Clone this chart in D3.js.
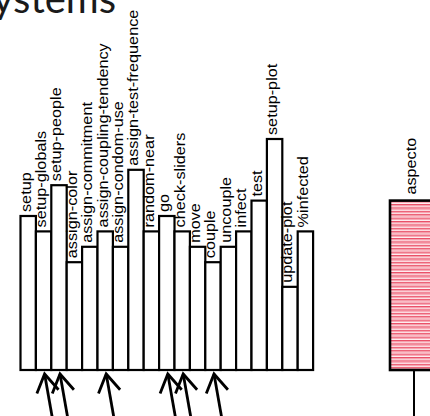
<!DOCTYPE html>
<html>
<head>
<meta charset="utf-8">
<script src="https://cdn.jsdelivr.net/npm/d3@7"></script>
<style>
  body { margin: 0; background: #fff; }
  svg { display: block; }
</style>
</head>
<body>
<svg id="chart" width="430" height="416"></svg>
<script>
// procedures in the model and their sizes
var procedures = ["setup", "setup-globals", "setup-people", "assign-color", "assign-commitment",
  "assign-coupling-tendency", "assign-condom-use", "assign-test-frequence", "random-near", "go",
  "check-sliders", "move", "couple", "uncouple", "infect", "test", "setup-plot", "update-plot", "%infected"];
var sizes = [10, 9, 12, 7, 8, 9, 8, 13, 9, 10, 9, 8, 7, 8, 9, 11, 15, 5.4, 9];

// the second, cut-off chart on the right
var aspects = ["aspecto"];
var aspectSizes = [11];

// procedures that the arrows point at
var marked = ["setup-globals", "setup-people", "assign-coupling-tendency", "go", "check-sliders", "couple"];

var title = "Systems";

var svg = d3.select("#chart");

var defs = svg.append("defs");
var pat = defs.append("pattern")
  .attr("id", "stripes")
  .attr("patternUnits", "userSpaceOnUse")
  .attr("width", 10)
  .attr("height", 3.4);
pat.append("rect").attr("width", 10).attr("height", 3.4).attr("fill", "#fff2f4");
pat.append("rect").attr("width", 10).attr("height", 1.3).attr("fill", "#e94a63");
pat.append("rect").attr("y", 1.3).attr("width", 10).attr("height", 1.1).attr("fill", "#f7a0ad");

var base = 370;
var y = d3.scaleLinear().domain([0, 15]).range([base, 139]);
var x = d3.scaleBand().domain(procedures).range([20.5, 313.1]).padding(0);
var x2 = d3.scaleBand().domain(aspects).range([390, 438]).padding(0);

// title, cut off at the top left of the slide
svg.append("text")
  .attr("x", 116)
  .attr("y", 13)
  .attr("text-anchor", "end")
  .attr("font-family", "Lato, 'Open Sans', sans-serif")
  .attr("font-size", 40)
  .attr("fill", "#1a1a1a")
  .text(title);

var fontSize = 14, stretch = 1.16;

// left chart bars
svg.append("g").selectAll("rect")
  .data(procedures)
  .enter().append("rect")
    .attr("x", (d) => x(d))
    .attr("y", (d, i) => y(sizes[i]))
    .attr("width", x.bandwidth())
    .attr("height", (d, i) => base - y(sizes[i]))
    .attr("fill", "#fff")
    .attr("stroke", "#000")
    .attr("stroke-width", 2.2);

svg.append("g").selectAll("text")
  .data(procedures)
  .enter().append("text")
    .attr("transform", (d, i) => "translate(" + (x(d) + 10) + "," + (y(sizes[i]) - 4) + ") rotate(-90) scale(" + stretch + ",1)")
    .attr("font-family", "'Liberation Sans', Arial, sans-serif")
    .attr("font-size", fontSize)
    .attr("fill", "#000")
    .text((d) => d);

// right chart bar (striped)
svg.append("g").selectAll("rect")
  .data(aspects)
  .enter().append("rect")
    .attr("x", (d) => x2(d))
    .attr("y", (d, i) => y(aspectSizes[i]))
    .attr("width", x2.bandwidth())
    .attr("height", (d, i) => base - y(aspectSizes[i]))
    .attr("fill", "url(#stripes)")
    .attr("stroke", "#000")
    .attr("stroke-width", 2.6);

svg.append("g").selectAll("text")
  .data(aspects)
  .enter().append("text")
    .attr("transform", (d, i) => "translate(" + (x2(d) + x2.bandwidth() / 2 + 2) + "," + (y(aspectSizes[i]) - 6) + ") rotate(-90) scale(" + stretch + ",1)")
    .attr("font-family", "'Liberation Sans', Arial, sans-serif")
    .attr("font-size", fontSize)
    .attr("fill", "#000")
    .text((d) => d);

svg.append("g").selectAll("line")
  .data(aspects)
  .enter().append("line")
    .attr("x1", (d) => x2(d) + x2.bandwidth() / 2)
    .attr("x2", (d) => x2(d) + x2.bandwidth() / 2)
    .attr("y1", base)
    .attr("y2", 416)
    .attr("stroke", "#000")
    .attr("stroke-width", 2);

// arrows pointing up at some bars
var arrows = svg.append("g")
  .attr("stroke", "#000")
  .attr("stroke-width", 2.8)
  .attr("fill", "none");

marked.forEach((name) => {
  var tipX = x(name) + x.bandwidth() / 2 + 1;
  var tipY = base + 4;
  var tilt = Math.atan2(7.4, 42);
  var len = 21, spread = 0.55;
  var g = arrows.append("g");
  g.append("line")
    .attr("x1", tipX).attr("y1", tipY)
    .attr("x2", tipX + Math.tan(tilt) * 50).attr("y2", tipY + 50);
  var left = tilt - spread, right = tilt + spread;
  g.append("path")
    .attr("d", "M" + (tipX + Math.sin(left) * len) + "," + (tipY + Math.cos(left) * len) +
      "L" + tipX + "," + tipY +
      "L" + (tipX + Math.sin(right) * len) + "," + (tipY + Math.cos(right) * len));
});
</script>
</body>
</html>
